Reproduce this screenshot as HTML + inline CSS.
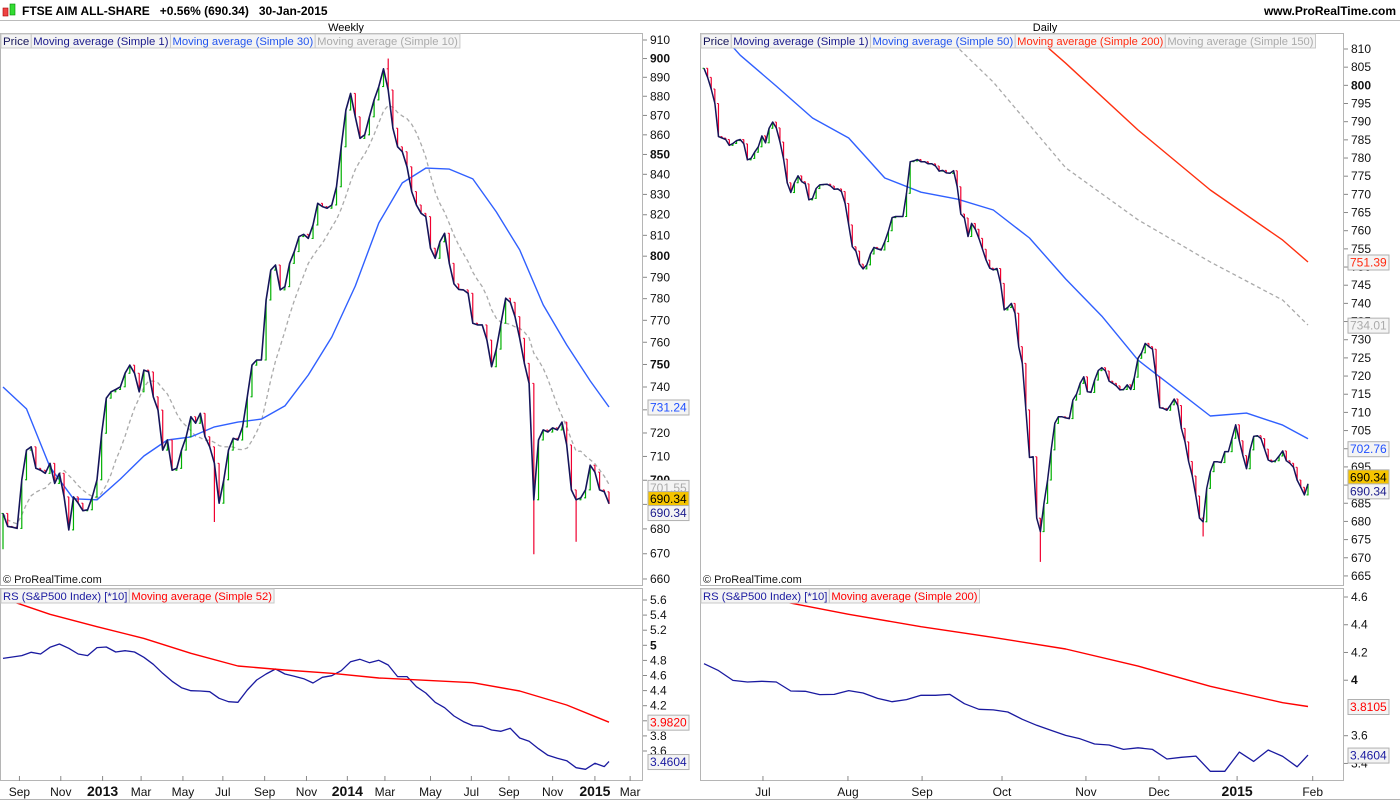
<!DOCTYPE html>
<html><head><meta charset="utf-8">
<style>
body{margin:0;background:#fff;font-family:"Liberation Sans",sans-serif;}
svg text{font-family:"Liberation Sans",sans-serif;}
</style></head>
<body>
<svg id="c" width="1400" height="800" viewBox="0 0 1400 800" xmlns="http://www.w3.org/2000/svg">
<rect x="0" y="0" width="1400" height="800" fill="#fff"/>
<g>
 <rect x="3" y="8" width="5" height="8" fill="#e44" stroke="#a00" stroke-width="0.6"/>
 <rect x="10" y="4" width="5" height="11" fill="#3d3" stroke="#080" stroke-width="0.6"/>
 <text x="22" y="15" font-size="12" font-weight="bold">FTSE AIM ALL-SHARE &#160;&#160;+0.56% (690.34) &#160;&#160;30-Jan-2015</text>
 <text x="1396" y="15" font-size="12" font-weight="bold" text-anchor="end">www.ProRealTime.com</text>
 <line x1="0" y1="20.5" x2="1400" y2="20.5" stroke="#bbb"/>
 <text x="346" y="31" font-size="11" text-anchor="middle">Weekly</text>
 <text x="1045" y="31" font-size="11" text-anchor="middle">Daily</text>
</g>
<defs>
 <clipPath id="cpL"><rect x="1" y="34" width="641" height="551"/></clipPath>
 <clipPath id="cpR"><rect x="701" y="34" width="642" height="551"/></clipPath>
 <clipPath id="cpLR"><rect x="1" y="589" width="641" height="191"/></clipPath>
 <clipPath id="cpRR"><rect x="701" y="589" width="642" height="191"/></clipPath>
</defs>
<g id="frames">
 <rect x="0.5" y="33.5" width="642" height="552" fill="none" stroke="#b5b5b5"/>
 <rect x="700.5" y="33.5" width="643" height="552" fill="none" stroke="#b5b5b5"/>
 <rect x="0.5" y="588.5" width="642" height="192" fill="none" stroke="#b5b5b5"/>
 <rect x="700.5" y="588.5" width="643" height="192" fill="none" stroke="#b5b5b5"/>
 <line x1="0" y1="799.5" x2="1400" y2="799.5" stroke="#b5b5b5"/>
</g>
<g id="gL" clip-path="url(#cpL)"></g>
<g id="gR" clip-path="url(#cpR)"></g>
<g id="gLR" clip-path="url(#cpLR)"></g>
<g id="gRR" clip-path="url(#cpRR)"></g>
<g id="axes"></g>
<g id="overlay"></g>
</svg>
<script>
// ---------- DATA ----------
const wClose=[686.3,681.0,680.7,680.2,700.2,712.7,714.1,705.0,704.2,702.9,707.1,698.7,702.9,693.1,679.6,693.1,690.5,687.4,687.8,693.1,700.2,719.9,735.1,737.9,738.9,740.1,746.1,749.7,746.1,737.9,747.5,746.7,735.7,729.9,712.7,717.0,704.2,705.0,712.7,718.4,727.0,724.2,728.5,718.4,714.1,707.1,690.5,700.2,712.7,717.7,717.0,722.6,735.7,749.7,752.0,752.0,
779.4,793.4,795.8,784.1,785.6,796.6,802.2,809.4,810.5,808.5,815.0,825.6,824.0,823.2,824.8,833.8,853.9,872.8,881.5,869.3,858.2,860.0,869.3,878.1,885.1,894.5,883.3,863.4,853.9,851.4,843.8,831.4,824.8,820.7,819.1,803.8,799.0,806.9,811.0,796.6,786.9,784.3,784.1,782.5,768.7,767.9,767.9,761.0,749.0,756.9,768.7,780.2,778.3,771.7,761.8,750.5,741.6,
691.9,717.0,721.3,720.4,722.2,721.3,724.7,714.9,696.0,691.9,692.7,696.0,706.3,703.4,696.0,695.2,690.34];
const wLowExt={0:672,45:683,113:670,122:675};
const wHighExt={82:900};
const wMa30=[740.0,730.4,705.5,692.3,691.9,700.5,710.2,717.0,718.3,722.6,724.7,726.0,731.7,745.3,762.4,785.9,816.0,835.7,843.1,842.6,837.7,821.4,803.0,777.1,758.8,742.7,731.24];
const wMa30Step=5;
const dClose=[804.7,802.2,799.0,795.0,785.9,785.5,785.1,783.5,784.0,784.8,785.1,783.9,779.5,779.9,781.6,783.1,786.1,784.2,788.2,789.9,788.3,784.4,779.7,773.2,770.5,773.2,775.1,773.5,772.9,768.5,768.9,771.6,772.6,772.7,772.8,772.3,771.4,771.5,770.8,767.5,761.6,755.6,754.4,750.8,749.5,750.6,753.6,755.4,755.0,754.7,757.0,760.0,763.6,763.9,763.9,763.9,770.3,779.0,779.2,779.6,779.0,779.0,778.4,778.4,777.8,776.4,776.6,775.9,775.8,776.5,772.1,764.6,763.5,758.4,762.0,760.4,757.9,754.9,751.9,749.7,749.2,749.6,745.5,738.2,738.9,740.0,737.3,728.1,
723.5,710.7,697.6,697.8,680.9,677.2,685.0,691.4,699.7,707.0,708.8,708.8,708.5,708.3,713.4,715.0,718.0,719.8,715.7,715.5,718.9,721.5,722.3,721.4,718.6,718.0,717.3,716.2,716.3,717.6,716.3,719.7,724.9,726.4,729.0,728.1,727.4,719.8,711.3,711.1,710.6,712.1,713.7,711.9,705.6,701.9,696.5,692.5,687.0,680.9,679.9,689.1,693.7,696.4,696.4,696.2,699.2,699.2,702.9,706.6,702.2,698.1,694.5,699.7,703.4,703.6,702.8,699.9,696.9,696.4,696.7,698.0,699.4,696.7,696.0,694.9,691.4,689.4,687.3,690.34];
const dLowExt={93:669,138:676};
const dMa50=[819.4,808.3,799.8,791.0,785.5,774.5,770.6,768.7,765.7,758.0,746.7,736.5,724.4,716.7,709.0,709.8,706.5,702.76];
const dMa50Step=10;
const dMa150=[856.5,845.5,834.5,820.2,800.9,777.3,763.0,751.4,740.9,734.01];
const dMa200=[878.5,864.8,851.0,837.2,823.5,806.1,787.7,771.2,757.4,751.39];
const dLongStep=20;
const rsW=[4.827,4.845,4.863,4.907,4.885,4.973,5.017,4.960,4.885,4.863,4.969,4.977,4.911,4.929,4.911,4.841,4.748,4.629,4.523,4.439,4.399,4.395,4.386,4.298,4.253,4.245,4.408,4.540,4.620,4.686,4.620,4.589,4.558,4.501,4.576,4.598,4.664,4.783,4.814,4.770,4.801,4.739,4.585,4.585,4.452,4.368,4.245,4.174,4.064,3.989,3.936,3.927,3.878,3.861,3.900,3.772,3.728,3.631,3.543,3.503,3.472,3.379,3.357,3.437,3.393,3.4604];
const rsWStep=2;
const rsWMa=[5.622,5.410,5.247,5.092,4.894,4.726,4.673,4.629,4.567,4.536,4.505,4.395,4.209,3.982];
const rsWMaStep=10;
const rsD=[4.119,4.069,3.999,3.987,3.992,3.987,3.922,3.920,3.896,3.898,3.925,3.908,3.869,3.845,3.860,3.891,3.891,3.898,3.831,3.790,3.786,3.771,3.718,3.675,3.638,3.602,3.578,3.540,3.533,3.501,3.513,3.501,3.432,3.444,3.453,3.343,3.343,3.482,3.415,3.497,3.451,3.376,3.4604];
const rsDStep=4;
const rsDMa=[4.612,4.576,4.475,4.386,4.309,4.225,4.102,3.956,3.838,3.8105];
const rsDMaStep=20;
const leftTicks=[660,670,680,690,700,710,720,730,740,750,760,770,780,790,800,810,820,830,840,850,860,870,880,890,900,910];
const rightTicks=[665,670,675,680,685,690,695,700,705,710,715,720,725,730,735,740,745,750,755,760,765,770,775,780,785,790,795,800,805,810];
const rsLTicks=[3.6,3.8,4,4.2,4.4,4.6,4.8,5,5.2,5.4,5.6];
const rsRTicks=[3.4,3.6,4,4.2,4.4,4.6];
const wMonths=["Sep","Nov","2013","Mar","May","Jul","Sep","Nov","2014","Mar","May","Jul","Sep","Nov","2015","Mar"];
const wMonthIdx=[3.5,12.3,21.2,29.4,38.3,46.8,55.7,64.6,73.3,81.3,91.0,99.7,107.7,117.0,126.0,133.5];
const dMonths=["Jul","Aug","Sep","Oct","Nov","Dec","2015","Feb"];
const dMonthIdx=[16.3,39.8,60.3,82.4,105.6,125.8,147.4,168.3];

// ---------- SCALES ----------
const NS='http://www.w3.org/2000/svg';
const xW=i=>3+i*(606/(wClose.length-1));
const xD=i=>704+i*(604/(dClose.length-1));
const yL=v=>40+1678*Math.log(910/v);
const yR=v=>49+(810-v)*3.634;
const yLR=v=>600+(5.6-v)*75.5;
const yRR=v=>597+(4.6-v)*138.7;

function mk(tag,attrs,parent){const e=document.createElementNS(NS,tag);for(const k in attrs)e.setAttribute(k,attrs[k]);parent.appendChild(e);return e;}
function poly(pts){return pts.map(p=>p[0].toFixed(1)+','+p[1].toFixed(1)).join(' ');}

const gL=document.getElementById('gL'),gR=document.getElementById('gR'),gLR=document.getElementById('gLR'),gRR=document.getElementById('gRR'),gA=document.getElementById('axes'),gO=document.getElementById('overlay');

function bars(g,cl,xf,yf,lowExt,highExt,prefix){
  for(let i=0;i<cl.length;i++){
    const o=i>0?cl[i-1]:cl[i],c=cl[i];
    let lo=Math.min(o,c),hi=Math.max(o,c);
    if(lowExt[i]!==undefined)lo=Math.min(lo,lowExt[i]);
    if(highExt[i]!==undefined)hi=Math.max(hi,highExt[i]);
    const col=c>=o?'#00b000':'#f00030';
    const x=xf(i);
    const l=mk('line',{x1:x,x2:x,y1:yf(hi),y2:yf(lo)+0.5,stroke:col,'stroke-width':1.2},g);
    
    
    mk('line',{x1:x-1.5,x2:x,y1:yf(o),y2:yf(o),stroke:col,'stroke-width':1},g);
  }
}
function series(g,vals,xf,yf,color,w,name,dash){
  const a={points:poly(vals.map((v,i)=>[xf(i),yf(v)])),fill:'none',stroke:color,'stroke-width':w,'stroke-linejoin':'round'};
  if(dash)a['stroke-dasharray']=dash;
  const p=mk('polyline',a,g);
  
  
  return p;
}
function stepIdx(arr,step,last){return i=>Math.min(i*step,last);}

const wMa10=wClose.map((v,i)=>{const s=wClose.slice(Math.max(0,i-9),i+1);return s.reduce((a,b)=>a+b,0)/s.length;});

series(gL,wMa10,xW,yL,'#aaaaaa',1.3,'weekly-ma10-line','4,3');
{const f=stepIdx(wMa30,wMa30Step,wClose.length-1);series(gL,wMa30,i=>xW(f(i)),yL,'#3060ff',1.4,'weekly-ma30-line');}
bars(gL,wClose,xW,yL,wLowExt,wHighExt,'weekly');
series(gL,wClose,xW,yL,'#15155a',1.6,'weekly-close-line');

{const L=dClose.length-1;
 const f2=stepIdx(dMa150,dLongStep,L);
 series(gR,dMa150,i=>xD(f2(i)),yR,'#aaaaaa',1.3,'daily-ma150-line','4,3');
 series(gR,dMa200,i=>xD(f2(i)),yR,'#ff3010',1.4,'daily-ma200-line');
 const f=stepIdx(dMa50,dMa50Step,L);
 series(gR,dMa50,i=>xD(f(i)),yR,'#3060ff',1.4,'daily-ma50-line');}
bars(gR,dClose,xD,yR,dLowExt,{},'daily');
series(gR,dClose,xD,yR,'#15155a',1.5,'daily-close-line');

{const L=wClose.length-1;
 const f=stepIdx(rsW,rsWStep,L);series(gLR,rsW,i=>xW(f(i)),yLR,'#1a1aa0',1.3,'weekly-rs-line');
 const g=stepIdx(rsWMa,rsWMaStep,L);series(gLR,rsWMa,i=>xW(g(i)),yLR,'#ff0000',1.4,'weekly-rs-ma52-line');}
{const L=dClose.length-1;
 const f=stepIdx(rsD,rsDStep,L);series(gRR,rsD,i=>xD(f(i)),yRR,'#1a1aa0',1.3,'daily-rs-line');
 const g=stepIdx(rsDMa,rsDMaStep,L);series(gRR,rsDMa,i=>xD(g(i)),yRR,'#ff0000',1.4,'daily-rs-ma200-line');}

function ticks(vals,yf,x0,bold,fmt,name){
  vals.forEach(v=>{
    const y=yf(v);
    mk('line',{x1:x0,x2:x0+4,y1:y,y2:y,stroke:'#888'},gA);
    const t=mk('text',{x:x0+7,y:y+4,'font-size':12,fill:'#111','font-weight':bold.includes(v)?'bold':'normal'},gA);
    t.textContent=fmt(v);
    
    
  });
}
ticks(leftTicks,yL,643,[700,750,800,850,900],v=>String(v),'left-price-tick');
ticks(rightTicks,yR,1344,[700,800],v=>String(v),'right-price-tick');
ticks(rsLTicks,yLR,643,[5],v=>v===4||v===5?String(v):v.toFixed(1),'left-rs-tick');
ticks(rsRTicks,yRR,1344,[4],v=>v===4?'4':v.toFixed(1),'right-rs-tick');

function xlabels(names,idx,xf,name){
  names.forEach((n,k)=>{
    const x=xf(idx[k]);
    mk('line',{x1:x,x2:x,y1:776,y2:781,stroke:'#888'},gA);
    const bold=/^\d{4}$/.test(n);
    const t=mk('text',{x:x,y:796,'font-size':bold?14:12,'font-weight':bold?'bold':'normal','text-anchor':'middle',fill:'#111'},gA);
    t.textContent=n;
    
    
  });
}
xlabels(wMonths,wMonthIdx,xW,'weekly-x-tick');
xlabels(dMonths,dMonthIdx,xD,'daily-x-tick');

function vlabel(x,y,text,color,bg,name){
  mk('rect',{x:x,y:y-7,width:41,height:15,fill:bg,stroke:'#b0b0b0'},gO);
  const t=mk('text',{x:x+2,y:y+4.5,'font-size':12,fill:color},gO);
  t.textContent=text;
  
  
}
vlabel(648,yL(wMa30[wMa30.length-1]),'731.24','#2050ff','#f4f4f4','weekly-ma30-value');
vlabel(648,yL(wMa10[wMa10.length-1])+3,'701.55','#aaaaaa','#f4f4f4','weekly-ma10-value');
vlabel(648,yL(wClose[wClose.length-1])-5,'690.34','#000','#f5c400','weekly-last-price');
vlabel(648,yL(wClose[wClose.length-1])+9,'690.34','#1a1a8c','#f4f4f4','weekly-close-value');
vlabel(1348,yR(dMa200[dMa200.length-1]),'751.39','#ff2a10','#f4f4f4','daily-ma200-value');
vlabel(1348,yR(dMa150[dMa150.length-1]),'734.01','#aaaaaa','#f4f4f4','daily-ma150-value');
vlabel(1348,yR(dMa50[dMa50.length-1])+10,'702.76','#2050ff','#f4f4f4','daily-ma50-value');
vlabel(1348,yR(dClose[dClose.length-1])-7,'690.34','#000','#f5c400','daily-last-price');
vlabel(1348,yR(dClose[dClose.length-1])+7,'690.34','#1a1a8c','#f4f4f4','daily-close-value');
vlabel(648,yLR(rsWMa[rsWMa.length-1]),'3.9820','#ff0000','#f4f4f4','weekly-rs-ma-value');
vlabel(648,yLR(rsW[rsW.length-1]),'3.4604','#1a1aa0','#f4f4f4','weekly-rs-value');
vlabel(1348,yRR(rsDMa[rsDMa.length-1]),'3.8105','#ff0000','#f4f4f4','daily-rs-ma-value');
vlabel(1348,yRR(rsD[rsD.length-1]),'3.4604','#1a1aa0','#f4f4f4','daily-rs-value');

function legend(x,y,items,name){
  let cx=x;
  items.forEach(([txt,col])=>{
    const w=txt.length*5.45+3;
    mk('rect',{x:cx,y:y,width:w,height:14,fill:'#f4f4f4',stroke:'#c8c8c8'},gO);
    const t=mk('text',{x:cx+2,y:y+11,'font-size':11,fill:col,textLength:w-4,lengthAdjust:'spacingAndGlyphs'},gO);
    t.textContent=txt;
    
    
    cx+=w;
  });
}
legend(1,34,[['Price','#15155a'],['Moving average (Simple 1)','#1a1a8c'],['Moving average (Simple 30)','#2255ee'],['Moving average (Simple 10)','#aaaaaa']],'weekly-legend-entry');
legend(701,34,[['Price','#15155a'],['Moving average (Simple 1)','#1a1a8c'],['Moving average (Simple 50)','#2255ee'],['Moving average (Simple 200)','#ff2a10'],['Moving average (Simple 150)','#aaaaaa']],'daily-legend-entry');
legend(1,589,[['RS (S&P500 Index) [*10]','#1a1aa0'],['Moving average (Simple 52)','#ff0000']],'weekly-rs-legend-entry');
legend(701,589,[['RS (S&P500 Index) [*10]','#1a1aa0'],['Moving average (Simple 200)','#ff0000']],'daily-rs-legend-entry');

[[3,'weekly'],[703,'daily']].forEach(([x,n])=>{
  const t=mk('text',{x:x,y:583,'font-size':11,fill:'#111'},gO);
  t.textContent='© ProRealTime.com';
  
  
});
</script>
</body></html>
